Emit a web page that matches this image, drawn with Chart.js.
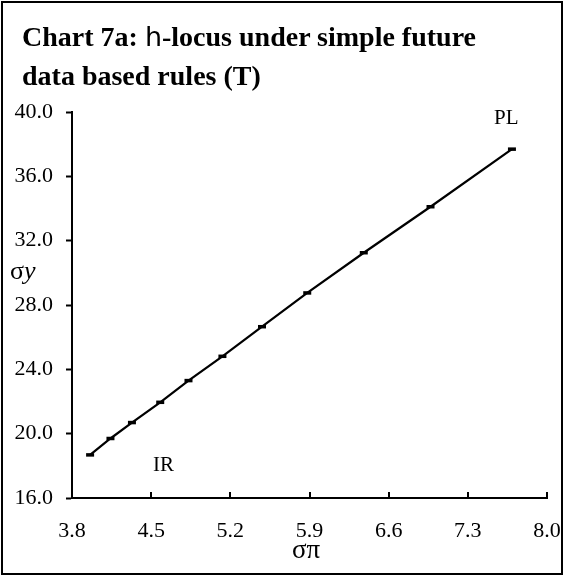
<!DOCTYPE html>
<html>
<head>
<meta charset="utf-8">
<script src="https://cdn.jsdelivr.net/npm/chart.js@4/dist/chart.umd.min.js"></script>
<style>
  html, body { margin: 0; padding: 0; background: #fff; }
  #wrap { position: relative; width: 564px; height: 576px; overflow: hidden; background: #fff; }
  #frame { position: absolute; left: 1px; top: 1px; width: 558px; height: 570px; border: 2px solid #000; pointer-events: none; }
  #c { position: absolute; left: 0; top: 0; }
  .t { position: absolute; font-family: "Liberation Serif", "Times New Roman", serif; color: #000; white-space: nowrap; }
  #title { left: 22px; top: 17px; font-size: 28px; font-weight: bold; line-height: 39px; }
  #title .h { font-weight: normal; font-family: "DejaVu Sans", sans-serif; font-size: 27px; }
  #ytitle { left: 10px; top: 256px; font-size: 26px; }
  #xtitle { left: 292px; top: 534px; font-size: 27px; }
</style>
</head>
<body>
<div id="wrap">
  <canvas id="c" width="564" height="576"></canvas>
  <div id="title" class="t">Chart 7a: <span class="h">h</span>-locus under simple future<br>data based rules (T)</div>
  <div id="ytitle" class="t">σ<i>y</i></div>
  <div id="xtitle" class="t">σπ</div>
  <div id="frame"></div>
</div>
<script>
// Data
const sigmaPi = [3.96, 4.14, 4.33, 4.58, 4.83, 5.13, 5.48, 5.88, 6.38, 6.97, 7.69];
const sigmaY  = [18.68, 19.70, 20.69, 21.95, 23.30, 24.81, 26.65, 28.75, 31.25, 34.11, 37.69];
const xTickMin = 3.8, xTickMax = 8.0, xTickStep = 0.7;
const yTickMin = 16, yTickMax = 40, yTickStep = 4;
const pointLabels = ["PL", "IR"];
const pointLabelX = [7.64, 4.61];
const pointLabelY = [39.6, 18.0];

const serif = '"Liberation Serif", "Times New Roman", serif';

const extras = {
  id: 'extras',
  afterDraw(chart) {
    const ctx = chart.ctx;
    const xs = chart.scales.x, ys = chart.scales.y;
    ctx.save();
    // inward x ticks
    ctx.strokeStyle = '#000';
    ctx.lineWidth = 2;
    xs.ticks.forEach(t => {
      const px = Math.round(xs.getPixelForValue(t.value));
      ctx.beginPath();
      ctx.moveTo(px, ys.bottom);
      ctx.lineTo(px, ys.bottom - 6);
      ctx.stroke();
    });
    // annotations
    ctx.fillStyle = '#000';
    ctx.font = '21px ' + serif;
    ctx.textAlign = 'center';
    ctx.textBaseline = 'middle';
    pointLabels.forEach((s, i) => {
      ctx.fillText(s, xs.getPixelForValue(pointLabelX[i]), ys.getPixelForValue(pointLabelY[i]));
    });
    ctx.restore();
  }
};

new Chart(document.getElementById('c'), {
  type: 'scatter',
  data: {
    datasets: [{
      data: sigmaPi.map((x, i) => ({ x: x, y: sigmaY[i] })),
      showLine: true,
      borderColor: '#000',
      borderWidth: 2.2,
      pointStyle: 'line',
      pointRadius: 4,
      pointBorderWidth: 3.5,
      pointBorderColor: '#000',
      pointBackgroundColor: '#000',
      tension: 0
    }]
  },
  options: {
    responsive: false,
    animation: false,
    devicePixelRatio: 1,
    layout: { padding: { left: 0, right: 17, top: 112, bottom: 0 } },
    plugins: { legend: { display: false }, tooltip: { enabled: false }, title: { display: false } },
    scales: {
      x: {
        type: 'linear',
        min: xTickMin, max: xTickMax,
        afterBuildTicks(scale) {
          const t = [];
          for (let v = xTickMin; v <= xTickMax + 1e-9; v += xTickStep) t.push({ value: Math.round(v * 10) / 10 });
          scale.ticks = t;
        },
        afterFit(scale) { scale.height = 78; scale.paddingLeft = 0; scale.paddingRight = 0; },
        grid: { display: true, drawOnChartArea: false, drawTicks: false },
        border: { display: true, color: '#000', width: 2 },
        ticks: {
          color: '#000', font: { family: serif, size: 22 }, padding: 20, maxRotation: 0,
          callback: v => Number(v).toFixed(1)
        }
      },
      y: {
        type: 'linear',
        min: yTickMin, max: yTickMax,
        afterBuildTicks(scale) {
          const t = [];
          for (let v = yTickMin; v <= yTickMax + 1e-9; v += yTickStep) t.push({ value: v });
          scale.ticks = t;
        },
        afterFit(scale) { scale.width = 72; scale.paddingTop = 0; scale.paddingBottom = 0; },
        grid: { display: true, drawOnChartArea: false, drawTicks: true, tickLength: 6, tickWidth: 2, tickColor: '#000' },
        border: { display: true, color: '#000', width: 2 },
        ticks: {
          color: '#000', font: { family: serif, size: 22 }, padding: 13,
          callback: v => Number(v).toFixed(1)
        }
      }
    }
  },
  plugins: [extras]
});
</script>
</body>
</html>
